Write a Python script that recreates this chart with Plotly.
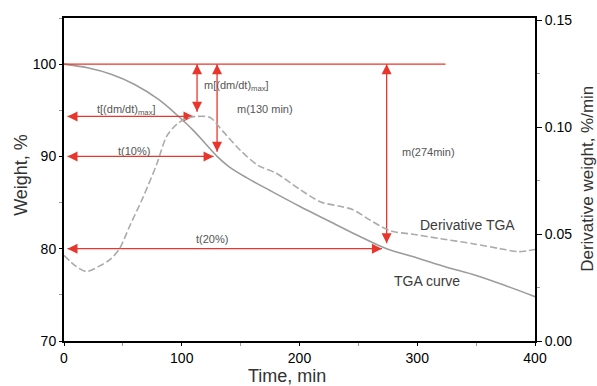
import numpy as np
import plotly.graph_objects as go

# ---- data -------------------------------------------------------------
# TGA weight curve, left axis (time in min, weight in %)
time_tga = [0, 20, 40, 60, 80, 95, 110, 120, 130, 140, 155, 175, 200, 225, 250, 274, 300, 325, 350, 375, 400]
weight_tga = [100, 99.6, 98.9, 97.8, 96.2, 94.6, 92.8, 91.4, 90.0, 88.9, 87.7, 86.3, 84.6, 83.0,
              81.4, 80.0, 79.0, 78.0, 77.1, 76.0, 74.8]

# Derivative TGA, right axis (%/min)
time_dtg = [0, 10, 19, 30, 39, 47, 56, 67, 79, 87, 96, 104, 113, 124, 135, 150, 165, 180,
            200, 218, 234, 245, 260, 277, 295, 320, 347, 370, 386, 400]
deriv_tga = [0.040, 0.035, 0.0325, 0.035, 0.038, 0.043, 0.054, 0.067, 0.083, 0.0955, 0.1015,
             0.104, 0.105, 0.1045, 0.098, 0.089, 0.082, 0.0785, 0.071, 0.065, 0.063, 0.0615,
             0.0565, 0.0515, 0.050, 0.0478, 0.0455, 0.0432, 0.0418, 0.0428]

x_ticks = [0, 100, 200, 300, 400]
w_ticks = [70, 80, 90, 100]
d_ticks = [0.0, 0.05, 0.10, 0.15]
d_tick_text = ["0.00", "0.05", "0.10", "0.15"]

# characteristic points
t_10 = 130      # m(130 min), 10 % loss
t_20 = 274      # m(274 min), 20 % loss
w_start = 100
w_10 = 90
w_20 = 80
baseline_end = 324

W_RANGE = [70, 105]
D_RANGE = [0, 0.151]

# ---- styling ----------------------------------------------------------
RED = "#e8362c"
FONT = "Liberation Sans, Arial, Helvetica, sans-serif"

# peak of the derivative, expressed on the weight axis
i_peak = int(np.argmax(deriv_tga))
t_peak = time_dtg[i_peak]
d_peak = deriv_tga[i_peak]
w_peak = W_RANGE[0] + (d_peak - D_RANGE[0]) / (D_RANGE[1] - D_RANGE[0]) * (W_RANGE[1] - W_RANGE[0])

fig = go.Figure()

fig.add_trace(go.Scatter(
    x=time_tga, y=weight_tga, mode="lines",
    line=dict(color="#9c9c9c", width=1.6, shape="spline", smoothing=1.0),
    hoverinfo="skip", showlegend=False,
))
fig.add_trace(go.Scatter(
    x=time_dtg, y=deriv_tga, mode="lines", yaxis="y2",
    line=dict(color="#ababab", width=1.6, dash="7px,3px", shape="spline", smoothing=0.8),
    hoverinfo="skip", showlegend=False,
))
# 100 % reference line
fig.add_trace(go.Scatter(
    x=[0, baseline_end], y=[w_start, w_start], mode="lines",
    line=dict(color=RED, width=1.3), hoverinfo="skip", showlegend=False,
))

# double-headed dimension arrows: (x0, y0, x1, y1)
arrows = [
    (3, w_peak, t_peak - 3, w_peak),          # t[(dm/dt)max]
    (t_peak, w_start, t_peak, w_peak + 0.5),  # m[(dm/dt)max]
    (3, w_10, t_10 - 3, w_10),                # t(10%)
    (t_10, w_start, t_10, w_10 + 0.5),        # m(130 min)
    (3, w_20, t_20 - 4, w_20),                # t(20%)
    (t_20, w_start, t_20, w_20 + 0.6),        # m(274 min)
]

shaft_x, shaft_y = [], []
head_x, head_y, head_sym = [], [], []
for x0, y0, x1, y1 in arrows:
    shaft_x += [x0, x1, None]
    shaft_y += [y0, y1, None]
    if y0 == y1:
        head_x += [x0, x1]
        head_y += [y0, y1]
        head_sym += ["arrow-left", "arrow-right"]
    else:
        head_x += [x0, x1]
        head_y += [y0, y1]
        head_sym += ["arrow-up", "arrow-down"]

fig.add_trace(go.Scatter(
    x=shaft_x, y=shaft_y, mode="lines", line=dict(color=RED, width=1.3),
    hoverinfo="skip", showlegend=False,
))
fig.add_trace(go.Scatter(
    x=head_x, y=head_y, mode="markers",
    marker=dict(symbol=head_sym, size=10, color=RED, line=dict(width=0)),
    hoverinfo="skip", showlegend=False,
))


def label(text, x, y, size=11, color="#555555", xanchor="center"):
    return dict(text=text, x=x, y=y, xref="x", yref="y", showarrow=False,
                xanchor=xanchor, yanchor="middle",
                font=dict(family=FONT, size=size, color=color))


labels = [
    label("t[(dm/dt)<sub>max</sub>]", 52.7, 95.0),
    label("m[(dm/dt)<sub>max</sub>]", 117.5, 97.65, xanchor="left"),
    label("m(130 min)", 145.5, 95.15, xanchor="left"),
    label("t(10%)", 59.5, 90.6),
    label("t(20%)", 126, 81.1),
    label("m(274min)", 285.5, 90.5, xanchor="left"),
    label("Derivative TGA", 300.5, 82.6, size=14, color="#3c3c3c", xanchor="left"),
    label("TGA curve", 278.5, 76.5, size=14, color="#3c3c3c", xanchor="left"),
]

titles = [
    dict(text="Weight, %", x=-0.093, y=0.515, xref="paper", yref="paper", textangle=-90,
         showarrow=False, xanchor="center", yanchor="middle",
         font=dict(family=FONT, size=18, color="#333333")),
    dict(text="Time, min", x=0.4735, y=-0.107, xref="paper", yref="paper",
         showarrow=False, xanchor="center", yanchor="middle",
         font=dict(family=FONT, size=18, color="#333333")),
    dict(text="Derivative weight, %/min", x=1.111, y=0.503, xref="paper", yref="paper",
         textangle=-90, showarrow=False, xanchor="center", yanchor="middle",
         font=dict(family=FONT, size=17, color="#333333")),
]

axis_common = dict(
    showgrid=False, zeroline=False, showline=True, linecolor="black", linewidth=2,
    ticks="outside", ticklen=3, tickcolor="black", tickwidth=1,
    tickfont=dict(family=FONT, size=14, color="black"),
)

fig.update_layout(
    width=597, height=386,
    margin=dict(l=64, r=62, t=13, b=45),
    paper_bgcolor="white", plot_bgcolor="white",
    xaxis=dict(range=[0, 400], tickvals=x_ticks, mirror=True,
               minor=dict(tick0=0, dtick=50, ticks="outside", ticklen=3, tickcolor="#9a9a9a"),
               **axis_common),
    yaxis=dict(range=W_RANGE, tickvals=w_ticks, mirror=True,
               minor=dict(tick0=70, dtick=5, ticks="outside", ticklen=3, tickcolor="#9a9a9a"),
               **axis_common),
    yaxis2=dict(range=D_RANGE, tickvals=d_ticks, ticktext=d_tick_text,
                overlaying="y", side="right",
                minor=dict(tick0=0, dtick=0.025, ticks="outside", ticklen=3, tickcolor="#9a9a9a"),
                **{**axis_common, "ticklen": 5}),
    annotations=labels + titles,
)

fig.write_html("out.html")
